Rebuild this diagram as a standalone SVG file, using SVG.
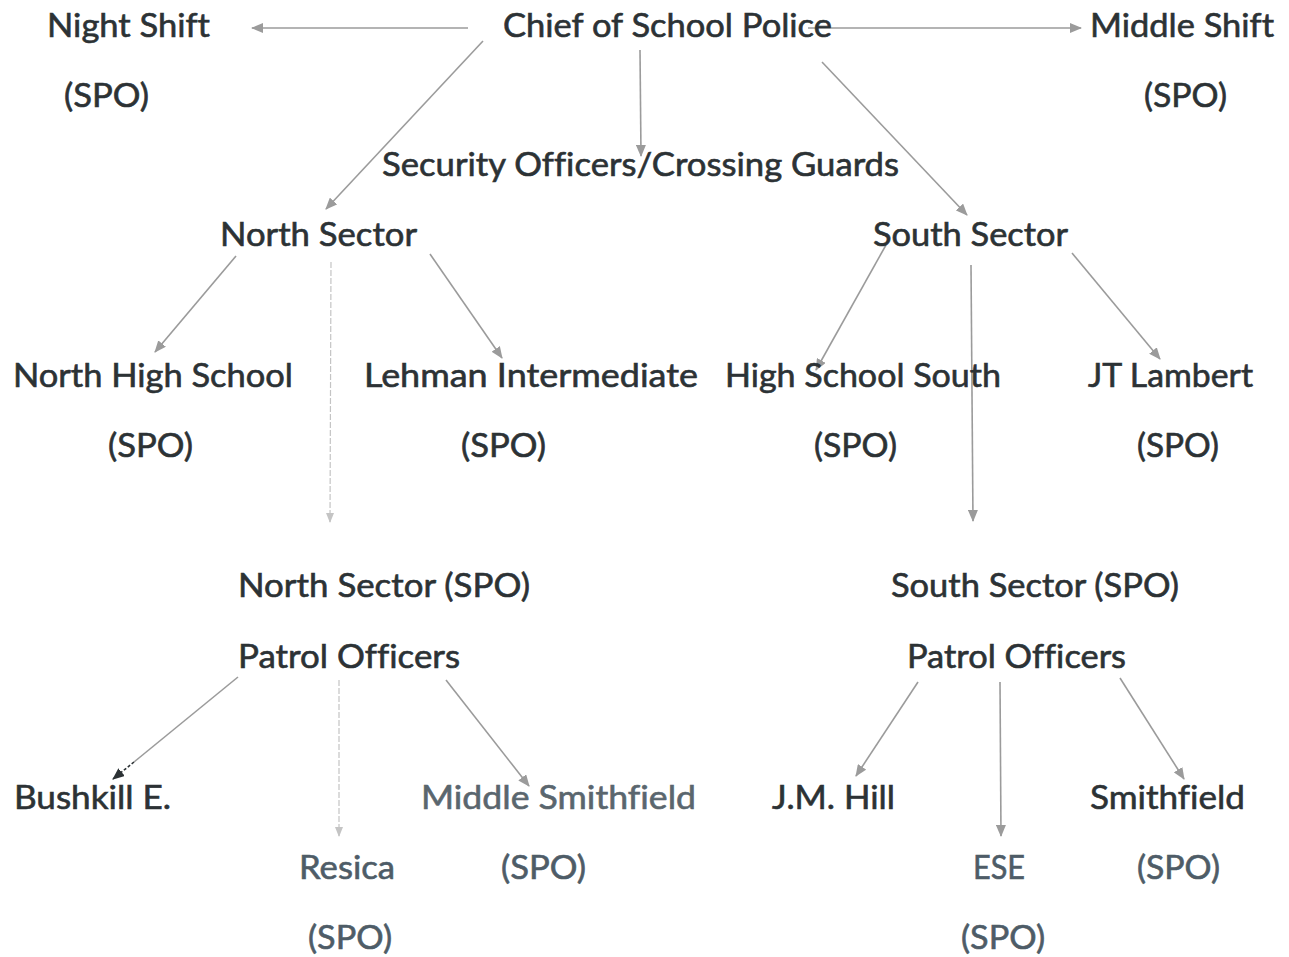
<svg xmlns="http://www.w3.org/2000/svg" width="1289" height="957" viewBox="0 0 1289 957">
<style>
text{font-family:Lato,"Open Sans","Liberation Sans",sans-serif;font-size:32px;fill:#2c3235;stroke:#2c3235;stroke-width:0.6;font-variant-ligatures:none}
text.b{fill:#4e5c67;stroke:#4e5c67}
text.m{fill:#5a666e;stroke:#5a666e}
.c line{stroke:#9b9b9b;stroke-width:1.6;fill:none}
.c line.f{stroke:#c4c4c4;stroke-width:1.2;stroke-dasharray:6 2}
</style>
<defs>
<marker id="a" markerUnits="userSpaceOnUse" markerWidth="12" markerHeight="10" refX="11" refY="5" orient="auto"><path d="M0,0 L12,5 L0,10 Z" fill="#9b9b9b"/></marker>
<marker id="af" markerUnits="userSpaceOnUse" markerWidth="10" markerHeight="8" refX="9" refY="4" orient="auto"><path d="M0,0 L10,4 L0,8 Z" fill="#c4c4c4"/></marker>
<marker id="ad" markerUnits="userSpaceOnUse" markerWidth="12" markerHeight="10" refX="11" refY="5" orient="auto"><path d="M0,0 L12,5 L0,10 Z" fill="#2c3235"/></marker>
</defs>
<rect width="1289" height="957" fill="#fff"/>
<g class="c" id="connectors">
<line x1="468" y1="28" x2="252" y2="28" marker-end="url(#a)"/>
<line x1="808" y1="28" x2="1081" y2="28" marker-end="url(#a)"/>
<line x1="640" y1="50" x2="641" y2="156" marker-end="url(#a)"/>
<line x1="483" y1="41" x2="326" y2="209" marker-end="url(#a)"/>
<line x1="822" y1="62" x2="967" y2="215" marker-end="url(#a)"/>
<line x1="236" y1="256" x2="155" y2="352" marker-end="url(#a)"/>
<line x1="430" y1="254" x2="502" y2="358" marker-end="url(#a)"/>
<line class="f" x1="331" y1="262" x2="330" y2="522" marker-end="url(#af)"/>
<line x1="886" y1="245" x2="816" y2="370" marker-end="url(#a)"/>
<line x1="1072" y1="253" x2="1160" y2="359" marker-end="url(#a)"/>
<line x1="971" y1="265" x2="973" y2="521" marker-end="url(#a)"/>
<line x1="238" y1="677" x2="134" y2="762"/>
<line x1="134" y1="762" x2="113" y2="779" stroke-dasharray="3 2" style="stroke:#2c3235" marker-end="url(#ad)"/>
<line class="f" x1="339" y1="680" x2="339" y2="836" marker-end="url(#af)"/>
<line x1="446" y1="680" x2="529" y2="786" marker-end="url(#a)"/>
<line x1="918" y1="682" x2="856" y2="776" marker-end="url(#a)"/>
<line x1="1000" y1="682" x2="1001" y2="836" marker-end="url(#a)"/>
<line x1="1120" y1="678" x2="1184" y2="779" marker-end="url(#a)"/>
</g>
<g id="chief"><text x="503" y="37" textLength="329" lengthAdjust="spacingAndGlyphs">Chief of School Police</text></g>
<g id="night-shift"><text x="47" y="37" textLength="163" lengthAdjust="spacingAndGlyphs">Night Shift</text><text x="64" y="107" textLength="85" lengthAdjust="spacingAndGlyphs">(SPO)</text></g>
<g id="middle-shift"><text x="1090" y="37" textLength="184" lengthAdjust="spacingAndGlyphs">Middle Shift</text><text x="1144" y="107" textLength="83" lengthAdjust="spacingAndGlyphs">(SPO)</text></g>
<g id="security"><text x="382" y="176" textLength="517" lengthAdjust="spacingAndGlyphs">Security Officers/Crossing Guards</text></g>
<g id="north-sector"><text x="220" y="246" textLength="197" lengthAdjust="spacingAndGlyphs">North Sector</text></g>
<g id="south-sector"><text x="873" y="246" textLength="195" lengthAdjust="spacingAndGlyphs">South Sector</text></g>
<g id="north-high"><text x="13" y="387" textLength="280" lengthAdjust="spacingAndGlyphs">North High School</text><text x="108" y="457" textLength="85" lengthAdjust="spacingAndGlyphs">(SPO)</text></g>
<g id="lehman"><text x="364" y="387" textLength="334" lengthAdjust="spacingAndGlyphs">Lehman Intermediate</text><text x="461" y="457" textLength="85" lengthAdjust="spacingAndGlyphs">(SPO)</text></g>
<g id="hs-south"><text x="725" y="387" textLength="276" lengthAdjust="spacingAndGlyphs">High School South</text><text x="814" y="457" textLength="83" lengthAdjust="spacingAndGlyphs">(SPO)</text></g>
<g id="jt-lambert"><text x="1088" y="387" textLength="165" lengthAdjust="spacingAndGlyphs">JT Lambert</text><text x="1137" y="457" textLength="82" lengthAdjust="spacingAndGlyphs">(SPO)</text></g>
<g id="north-patrol"><text x="238" y="597" textLength="292" lengthAdjust="spacingAndGlyphs">North Sector (SPO)</text><text x="238" y="668" textLength="222" lengthAdjust="spacingAndGlyphs">Patrol Officers</text></g>
<g id="south-patrol"><text x="891" y="597" textLength="288" lengthAdjust="spacingAndGlyphs">South Sector (SPO)</text><text x="907" y="668" textLength="219" lengthAdjust="spacingAndGlyphs">Patrol Officers</text></g>
<g id="bushkill"><text x="14" y="809" textLength="157" lengthAdjust="spacingAndGlyphs">Bushkill E.</text></g>
<g id="resica"><text class="b" x="299" y="879" textLength="96" lengthAdjust="spacingAndGlyphs">Resica</text><text class="b" x="308" y="949" textLength="84" lengthAdjust="spacingAndGlyphs">(SPO)</text></g>
<g id="middle-smithfield"><text class="m" x="421" y="809" textLength="275" lengthAdjust="spacingAndGlyphs">Middle Smithfield</text><text class="b" x="501" y="879" textLength="85" lengthAdjust="spacingAndGlyphs">(SPO)</text></g>
<g id="jm-hill"><text x="772" y="809" textLength="123" lengthAdjust="spacingAndGlyphs">J.M. Hill</text></g>
<g id="ese"><text class="b" x="973" y="879" textLength="52" lengthAdjust="spacingAndGlyphs">ESE</text><text class="b" x="961" y="949" textLength="84" lengthAdjust="spacingAndGlyphs">(SPO)</text></g>
<g id="smithfield"><text x="1090" y="809" textLength="155" lengthAdjust="spacingAndGlyphs">Smithfield</text><text class="b" x="1137" y="879" textLength="83" lengthAdjust="spacingAndGlyphs">(SPO)</text></g>
</svg>
